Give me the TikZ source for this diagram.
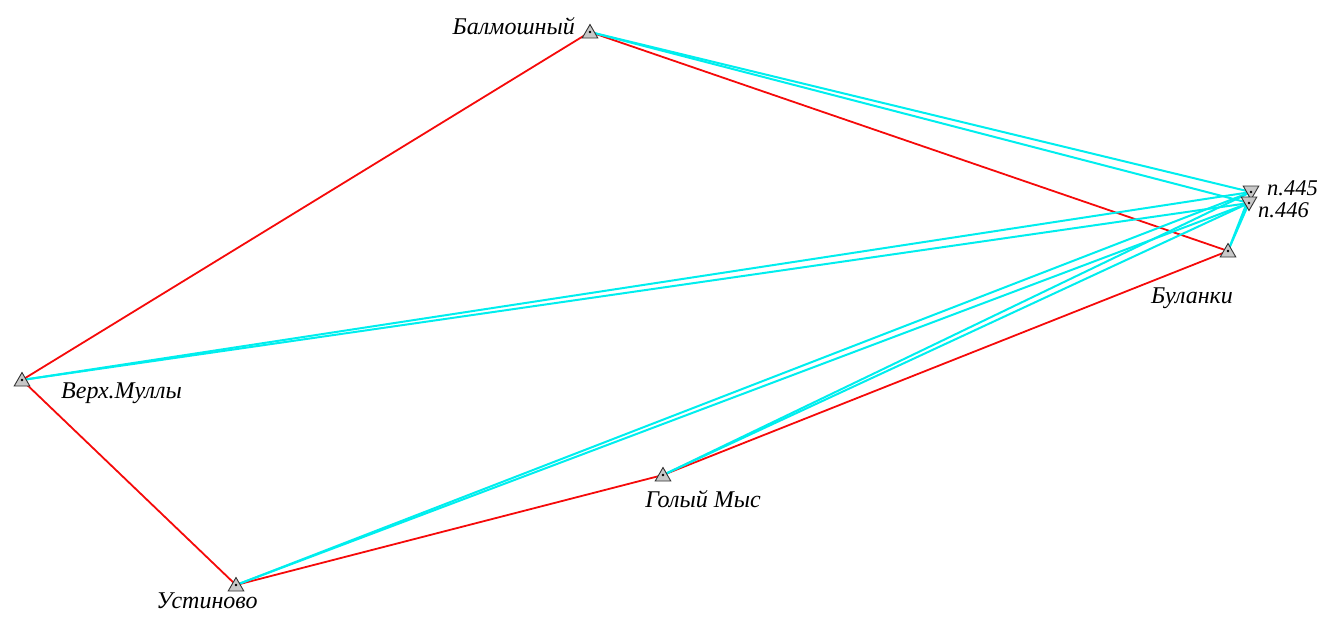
\documentclass[tikz,border=0pt]{standalone}
\usepackage{fontspec}
\setmainfont{Liberation Serif}
\usetikzlibrary{shapes.geometric}
\begin{document}
\begin{tikzpicture}[x=1pt,y=-1pt,
  redline/.style={draw={rgb,255:red,245;green,10;blue,10},line width=1.8pt},
  cyanline/.style={draw={rgb,255:red,0;green,238;blue,238},line width=2pt},
  stn/.style={regular polygon,regular polygon sides=3,draw={rgb,255:red,50;green,50;blue,50},fill={rgb,255:red,200;green,200;blue,200},line width=0.9pt,minimum size=18pt,inner sep=0pt},
  pnt/.style={stn,shape border rotate=180},
  dotm/.style={circle,fill=black,inner sep=0pt,minimum size=2.6pt},
  lbl/.style={font=\fontsize{24}{26}\selectfont\itshape,inner sep=0pt},
  slbl/.style={font=\fontsize{22.5}{24}\selectfont\itshape,inner sep=0pt,text height=15pt,text depth=0pt}]
\useasboundingbox (0,0) rectangle (1327,619);
\coordinate (bal) at (590,32);
\coordinate (p445) at (1251,192);
\coordinate (p446) at (1249,203);
\coordinate (bul) at (1228,251);
\coordinate (ver) at (22,380);
\coordinate (gol) at (663,475);
\coordinate (ust) at (236,585);
% red traverse
\draw[redline] (bal) -- (ver);
\draw[redline] (bal) -- (bul);
\draw[redline] (ver) -- (ust);
\draw[redline] (ust) -- (gol);
\draw[redline] (gol) -- (bul);
% cyan sightings
\foreach \s in {bal,ver,ust,gol,bul}{
  \draw[cyanline] (\s) -- (p445);
  \draw[cyanline] (\s) -- (p446);
}
% markers
\foreach \s in {bal,bul,ver,gol,ust}{
  \node[stn] (m\s) at ([yshift=-1.5pt]\s) {};
  \node[dotm] (d\s) at (\s) {};
}
\foreach \s in {p445,p446}{
  \node[pnt] (m\s) at ([yshift=1.5pt]\s) {};
  \node[dotm] (d\s) at (\s) {};
}
% labels
\node[lbl,anchor=east] (tbal) at (575,26) {Балмошный};
\node[slbl,anchor=base west] (t445) at (1267,195) {п.445};
\node[slbl,anchor=base west] (t446) at (1258,217) {п.446};
\node[lbl] (tbul) at (1192,298) {Буланки};
\node[lbl,anchor=west] (tver) at (61,393) {Верх.Муллы};
\node[lbl] (tgol) at (703,499) {Голый Мыс};
\node[lbl] (tust) at (207,601) {Устиново};
\end{tikzpicture}
\end{document}
